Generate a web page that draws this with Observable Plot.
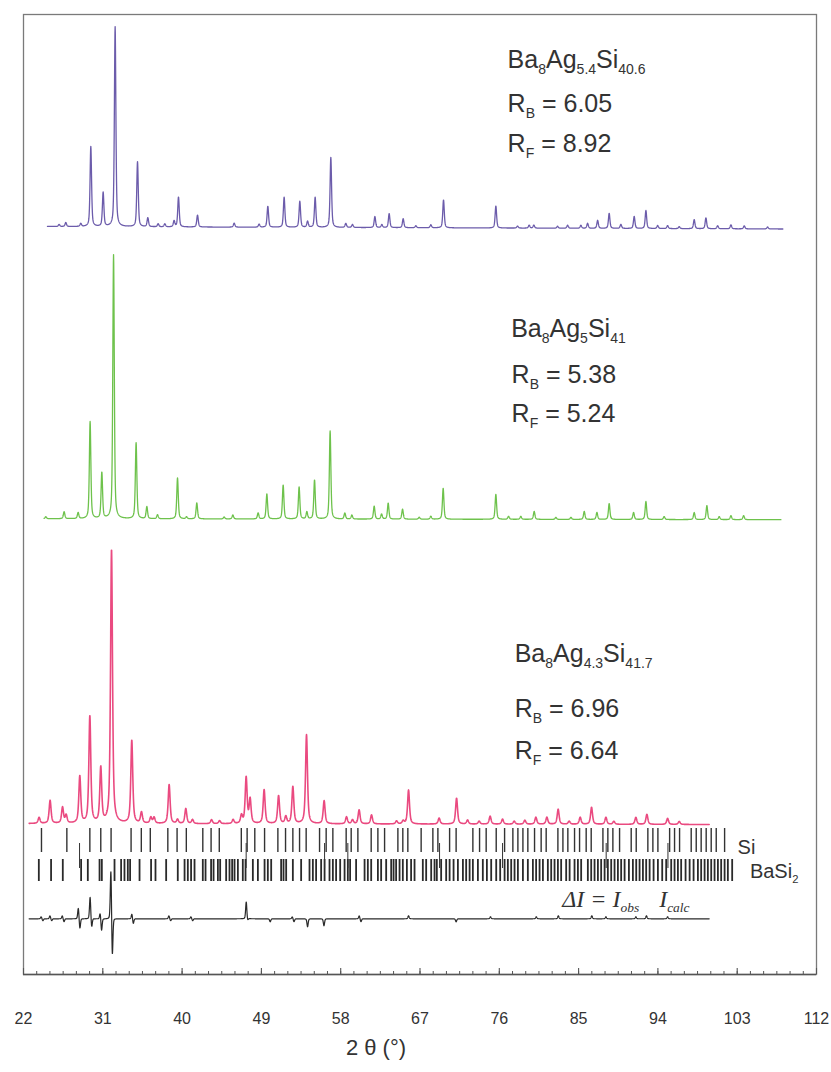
<!DOCTYPE html>
<html><head><meta charset="utf-8">
<script src="https://cdn.jsdelivr.net/npm/d3@7"></script>
<script src="https://cdn.jsdelivr.net/npm/@observablehq/plot@0.6"></script>
<style>body{margin:0;background:#fff;} #chart svg{display:block;}</style>
</head><body><div id="chart"></div>
<script>
// ---------- DATA (2θ in degrees, intensities in arbitrary units) ----------
const xTicks = [22, 31, 40, 49, 58, 67, 76, 85, 94, 103, 112];

const sampleFormulas = ["Ba_{8}Ag_{5.4}Si_{40.6}", "Ba_{8}Ag_{5}Si_{41}", "Ba_{8}Ag_{4.3}Si_{41.7}"];
const rBragg = ["6.05", "5.38", "6.96"];
const rF = ["8.92", "5.24", "6.64"];
const phaseNames = ["Si", "BaSi_{2}"];
const diffName = "ΔI = I_{obs}";
const diffName2 = "I_{calc}";

// peaks [2θ, height]
const peaksAg54 = [[26.04,2],[26.80,4],[28.50,3],[29.64,80],[31.04,34],[32.40,200],[34.94,65],[36.11,9],[37.28,3],[38.04,3],[39.09,6],[39.59,30],[41.75,12],[45.91,4],[48.74,3],[49.73,21],[51.58,30],[53.36,26],[54.24,6],[55.10,30],[56.88,70],[58.58,4],[59.34,3],[61.88,11],[62.67,3],[63.50,14],[65.09,9],[66.53,2],[68.23,3],[69.67,28],[75.61,22],[78.07,2],[79.39,3],[79.92,3],[82.61,2],[83.75,3],[85.26,3],[86.02,5],[87.16,8],[88.47,15],[89.80,4],[91.31,12],[92.64,18],[93.97,3],[95.10,3],[96.42,2],[98.12,9],[99.45,11],[100.78,3],[102.29,4],[103.80,3],[106.45,2]];
const peaksAg5 = [[24.53,2],[26.61,7],[28.20,6],[29.56,97],[30.89,46],[32.22,264],[34.78,76],[36.00,12],[37.21,4],[39.48,41],[40.50,2],[41.67,16],[44.77,2],[45.76,4],[48.63,6],[49.62,25],[51.47,34],[53.28,32],[54.16,7],[55.03,39],[56.80,88],[58.47,6],[59.27,4],[61.80,13],[62.64,5],[63.39,16],[65.02,10],[66.91,2],[68.23,3],[69.63,31],[75.61,25],[77.05,3],[78.44,3],[79.96,8],[82.42,2],[84.13,2],[85.64,8],[87.08,7],[88.47,16],[91.24,7],[92.64,18],[94.71,3],[98.12,7],[99.56,14],[100.96,3],[102.29,4],[103.73,4]];
const peaksAg43 = [[23.77,6],[25.02,23],[26.43,16],[26.84,8],[28.39,47],[29.53,107],[30.77,55],[31.99,274],[34.29,83],[35.39,11],[36.45,6],[36.82,6],[38.53,39],[39.48,4],[40.42,15],[41.18,4],[43.34,4],[44.25,3],[45.79,4],[46.74,8],[47.27,46],[47.72,24],[49.31,34],[50.95,28],[51.77,7],[52.57,37],[54.12,89],[56.12,23],[58.66,7],[59.34,4],[60.09,14],[61.50,9],[64.34,3],[65.09,3],[65.70,34],[69.17,6],[71.15,26],[72.40,4],[73.71,3],[74.96,8],[76.37,5],[77.69,3],[78.90,4],[80.15,7],[81.40,7],[82.68,15],[83.93,3],[85.18,7],[86.47,17],[88.10,7],[89.00,3],[91.50,7],[92.75,10],[95.10,6],[96.42,3]];
const diffFeatures = [[24.0,2],[24.2,-2],[25.0,3],[25.2,-2],[26.4,3],[26.6,-3],[28.22,11],[28.40,-10],[29.56,22],[29.74,-9],[30.70,6],[30.86,-12],[31.92,51],[32.08,-40],[34.30,5],[34.46,-5],[38.5,3],[38.7,-2],[41.0,2],[41.2,-2],[47.28,17],[47.44,-2],[50.0,-3],[52.5,2],[52.7,-3],[54.24,-8],[56.10,-7],[60.1,3],[60.3,-3],[65.7,3],[71.1,-3],[75.0,2],[80.2,2],[82.7,3],[86.5,3],[88.1,2],[91.5,2],[92.7,3],[95.1,2]];

// reflection positions
const siReflections = [24.04,26.92,29.53,30.77,31.94,34.21,35.37,36.39,38.38,39.43,40.48,42.35,43.29,44.22,46.72,47.38,48.25,49.36,50.87,51.74,52.57,53.33,54.08,55.60,56.35,57.11,58.62,59.19,59.95,61.46,62.22,62.98,64.49,65.05,65.62,67.13,68.46,69.03,70.36,71.10,73.00,73.76,74.51,75.65,76.60,77.54,78.11,78.68,79.24,80.00,80.75,81.32,82.65,83.22,83.78,84.54,85.11,85.86,86.43,87.76,88.32,88.89,89.65,90.97,91.54,92.86,93.43,94.00,95.33,95.89,96.46,97.78,98.35,98.91,99.48,100.05,100.62,101.57];
const basi2Reflections = [23.74,25.13,26.46,28.54,29.30,30.63,30.89,32.33,33.08,33.46,33.84,34.10,35.17,36.48,36.98,38.19,39.51,40.28,40.65,41.02,41.41,42.35,42.66,43.29,43.57,44.06,44.32,45.00,45.38,45.68,45.95,46.33,46.89,47.20,48.03,48.60,49.36,49.73,50.11,51.24,51.51,51.81,52.57,53.51,54.46,54.84,55.21,55.78,56.17,56.73,57.11,57.48,57.94,58.44,58.81,59.07,59.75,60.71,61.08,61.46,62.22,62.59,63.16,63.73,64.00,64.29,64.68,65.05,65.51,65.99,66.38,67.32,67.70,68.27,68.65,68.91,69.40,69.97,70.36,70.81,71.30,71.87,72.24,72.63,73.00,73.57,74.13,74.59,75.08,75.65,76.10,76.60,76.97,77.35,77.73,78.11,78.68,79.24,79.81,80.18,80.57,80.95,81.51,81.89,82.27,82.65,83.02,83.59,83.98,84.54,84.92,85.29,86.05,86.43,86.81,87.19,87.56,87.95,88.32,88.70,89.08,89.46,89.83,90.22,90.71,91.16,91.54,91.92,92.30,92.67,93.06,93.51,94.00,94.49,94.94,95.51,95.89,96.27,96.64,97.14,97.60,98.05,98.54,98.91,99.30,99.67,100.05,100.43,100.81,101.18,101.57,101.94,102.43];
const thirdPhaseReflections = [28.36,47.27,56.17,58.81,69.22,76.37,88.13,95.14];

// ---------- LAYOUT / STYLE ----------
const layout = {
  top:    {base0: 748, base1: 745.5, from: 24.72, to: 108.19, fwhm: 0.20, eta: 0.5, color: "#6c5cab", width: 1.3},
  middle: {base0: 455.8, base1: 454.8, from: 24.34, to: 107.96, fwhm: 0.20, eta: 0.5, color: "#6ec24c", width: 1.3},
  bottom: {base0: 151, base1: 150, from: 22.64, to: 99.82, fwhm: 0.26, eta: 0.65, color: "#ea4a80", width: 1.6},
  diff:   {base0: 55.7, base1: 55.7, from: 22.64, to: 99.82, fwhm: 0.16, eta: 0.3, color: "#2a2a2a", width: 1.2}
};

function profile(peaks, L) {
  const pts = [];
  const step = 0.02;
  const hw = L.fwhm / 2;
  for (let x = L.from; x <= L.to + 1e-9; x += step) {
    let s = 0;
    for (const [p, h] of peaks) {
      const d = (x - p) / hw;
      if (Math.abs(d) > 60) continue;
      const lor = 1 / (1 + d * d);
      const gau = Math.exp(-Math.LN2 * d * d);
      s += h * (L.eta * lor + (1 - L.eta) * gau);
    }
    const t = (x - L.from) / (L.to - L.from);
    pts.push({x, y: L.base0 + (L.base1 - L.base0) * t + s});
  }
  return pts;
}

const curves = [
  [profile(peaksAg54, layout.top), layout.top],
  [profile(peaksAg5, layout.middle), layout.middle],
  [profile(peaksAg43, layout.bottom), layout.bottom],
  [profile(diffFeatures, layout.diff), layout.diff]
];

const sans = "'Liberation Sans', Arial, Helvetica, sans-serif";
const serif = "'Liberation Serif', 'Times New Roman', serif";

const textItems = [
  {text: sampleFormulas[0], x: 77.0, y: 905.7, size: 25},
  {text: "R_{B} = " + rBragg[0], x: 77.0, y: 861.7, size: 25},
  {text: "R_{F} = " + rF[0], x: 77.0, y: 821.7, size: 25},
  {text: sampleFormulas[1], x: 77.4, y: 637.3, size: 25},
  {text: "R_{B} = " + rBragg[1], x: 77.45, y: 591.3, size: 25},
  {text: "R_{F} = " + rF[1], x: 77.45, y: 552.3, size: 25},
  {text: sampleFormulas[2], x: 77.8, y: 312.3, size: 25},
  {text: "R_{B} = " + rBragg[2], x: 77.8, y: 256.7, size: 25},
  {text: "R_{F} = " + rF[2], x: 77.8, y: 214.7, size: 25},
  {text: phaseNames[0], x: 103.1, y: 120, size: 20},
  {text: phaseNames[1], x: 104.5, y: 95.7, size: 20},
  {text: diffName, x: 83.2, y: 67.3, size: 24, family: serif, italic: true},
  {text: diffName2, x: 94.2, y: 67.3, size: 24, family: serif, italic: true}
];

function richText(items) {
  return (index, scales) => {
    const g = d3.create("svg:g").attr("text-anchor", "start");
    for (const it of items) {
      const t = g.append("text")
        .attr("text-anchor", "start")
        .attr("x", scales.x(it.x)).attr("y", scales.y(it.y))
        .attr("font-size", it.size).attr("fill", "#333")
        .attr("font-family", it.family || sans)
        .attr("font-style", it.italic ? "italic" : null);
      const parts = it.text.split(/_\{([^}]*)\}/);
      let shifted = false;
      const sh = it.size * 0.24;
      parts.forEach((p, i) => {
        if (!p) return;
        const ts = t.append("tspan").text(p);
        if (i % 2 === 1) { ts.attr("font-size", it.size * 0.56).attr("dy", sh); shifted = true; }
        else if (shifted) { ts.attr("dy", -sh); shifted = false; }
      });
    }
    return g.node();
  };
}

const minorTicks = d3.range(22, 112.001, 1.5);

const chart = Plot.plot({
  width: 831, height: 1072,
  marginTop: 14, marginBottom: 98, marginLeft: 23, marginRight: 15,
  style: {fontFamily: sans, background: "#fff"},
  x: {domain: [22, 112], label: null},
  y: {domain: [0, 960], axis: null},
  marks: [
    Plot.frame({stroke: "#7a7a7a", strokeWidth: 1.3}),
    Plot.ruleY([0], {stroke: "#555", strokeWidth: 1.3}),
    Plot.ruleX(minorTicks, {x: d => d, y1: () => 0, y2: () => 3, stroke: "#555", strokeWidth: 1}),
    Plot.ruleX(xTicks, {x: d => d, y1: () => 0, y2: () => 6, stroke: "#555", strokeWidth: 1.1}),
    Plot.axisX(xTicks, {tickSize: 0, tickPadding: 38, fontSize: 16, color: "#333", label: null}),
    Plot.text(["2 θ (°)"], {frameAnchor: "bottom", dx: -44, dy: 80, fontSize: 22, fill: "#333"}),
    ...curves.map(([pts, L]) => Plot.line(pts, {x: "x", y: "y", stroke: L.color, strokeWidth: L.width, curve: "linear"})),
    Plot.ruleX(siReflections, {x: d => d, y1: () => 122, y2: () => 146, stroke: "#333", strokeWidth: 1.4}),
    Plot.ruleX(basi2Reflections, {x: d => d, y1: () => 93, y2: () => 115, stroke: "#2a2a2a", strokeWidth: 1.8}),
    Plot.ruleX(thirdPhaseReflections, {x: d => d, y1: () => 106, y2: () => 131, stroke: "#333", strokeWidth: 1}),
    richText(textItems)
  ]
});
document.getElementById("chart").appendChild(chart);
</script></body></html>
